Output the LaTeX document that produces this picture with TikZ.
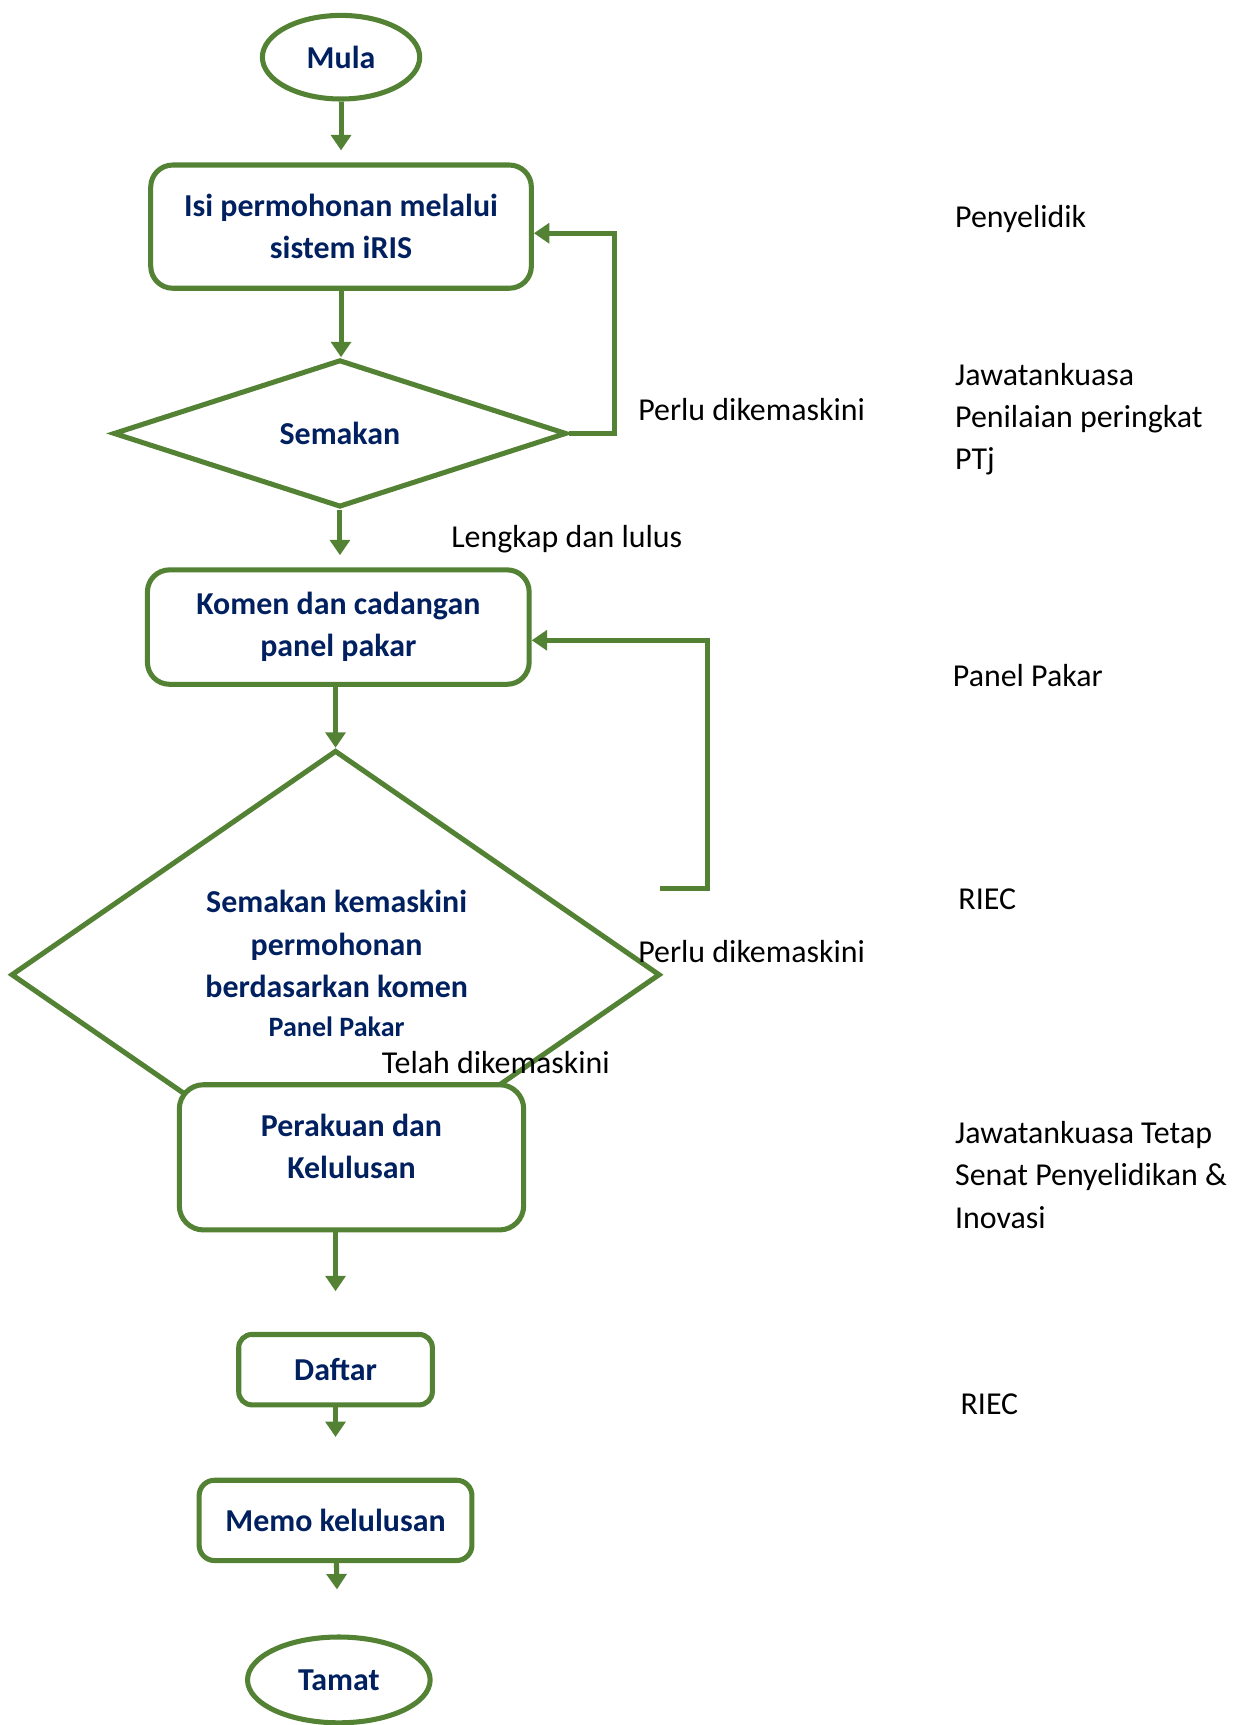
\documentclass[tikz,border=0pt]{standalone}
\usepackage{fontspec}
\setmainfont{Carlito}
\usetikzlibrary{shapes.geometric,arrows.meta,calc}
\definecolor{fgreen}{RGB}{84,130,53}
\definecolor{navy}{RGB}{0,32,96}
\begin{document}
\begin{tikzpicture}[x=1pt,y=-1pt,
  every node/.style={font=\fontsize{29}{38.5}\selectfont},
  bfont/.style={font=\fontsize{29}{38.5}\selectfont\bfseries, text=navy},
  proc/.style={draw=fgreen, line width=4.6pt, rounded corners=20pt, fill=white, bfont, align=center, inner sep=0pt},
  term/.style={ellipse, draw=fgreen, line width=4.6pt, fill=white, bfont, inner sep=0pt},
  dec/.style={diamond, draw=fgreen, line width=4.6pt, bfont, inner sep=0pt, align=center},
  ttext/.style={bfont, align=center, inner sep=0pt},
  arr/.style={draw=fgreen, line width=4.6pt, -{Triangle[width=18pt,length=14pt]}},
  lbl/.style={anchor=west, inner sep=0pt, align=left, text=black}
]
\useasboundingbox (0,0) rectangle (1135,1568);

\node[term, minimum width=143pt, minimum height=76pt] (mula) at (310,52) {Mula};
\node[proc, minimum width=346pt, minimum height=112pt] (isi) at (310,206) {Isi permohonan melalui\\sistem iRIS};
\node[dec, minimum width=412pt, minimum height=134pt] (sem) at (309,394) {Semakan};
\node[proc, minimum width=347pt, minimum height=104pt] (komen) at (307.5,570) {Komen dan cadangan\\panel pakar};
\node[dec, minimum width=590pt, minimum height=408pt] (semk) at (305,886) {};
\node[ttext] (semkt) at (306,876) {Semakan kemaskini\\permohonan\\berdasarkan komen\\[-3pt]{\fontsize{25.5}{30}\selectfont Panel Pakar}};
\coordinate (fb2) at (600,808);

\node[proc, rounded corners=22pt, minimum width=313pt, minimum height=132pt] (per) at (319.5,1052) {};
\node[ttext] (pert) at (319.5,1042) {Perakuan dan\\Kelulusan};
\node[proc, rounded corners=12pt, minimum width=176pt, minimum height=64pt] (daftar) at (305,1245) {Daftar};
\node[proc, rounded corners=14pt, minimum width=248pt, minimum height=73pt] (memo) at (305,1382) {Memo kelulusan};
\node[term, minimum width=166pt, minimum height=78pt] (tamat) at (308,1527) {Tamat};

\draw[arr, shorten >=11pt] (mula) -- (isi);
\draw[arr] (isi.south) -- (isi.south |- sem.north);
\draw[arr] (sem.east) -- ++(41,0) |- ([yshift=-6pt]isi.east);
\draw[arr, shorten >=11pt] (sem.south) -- (sem.south |- komen.north);
\draw[arr] (komen.south -| semk.north) -- (semk.north);
\draw[arr] (fb2) -- ++(43,0) |- ([yshift=-12pt]komen.east);
\draw[arr, shorten >=37pt] (per.south -| daftar.north) -- (daftar.north);
\draw[arr, shorten >=37pt] (daftar) -- (memo);
\draw[arr, shorten >=41pt] (memo) -- (tamat);

\node[lbl] (l1) at (580,372) {Perlu dikemaskini};
\node[lbl] (l2) at (410,490) {Lengkap dan lulus};
\node[lbl] (l3) at (580,865) {Perlu dikemaskini};
\node[lbl] (l4) at (347,966) {Telah dikemaskini};

\node[lbl] (r1) at (868,199) {Penyelidik};
\node[lbl] (r2) at (868,381) {Jawatankuasa\\Penilaian peringkat\\PTj};
\node[lbl] (r3) at (866,614) {Panel Pakar};
\node[lbl] (r4) at (871,817) {RIEC};
\node[lbl] (r5) at (868,1068) {Jawatankuasa Tetap\\Senat Penyelidikan \&\\Inovasi};
\node[lbl] (r6) at (873,1276) {RIEC};
\end{tikzpicture}
\end{document}
